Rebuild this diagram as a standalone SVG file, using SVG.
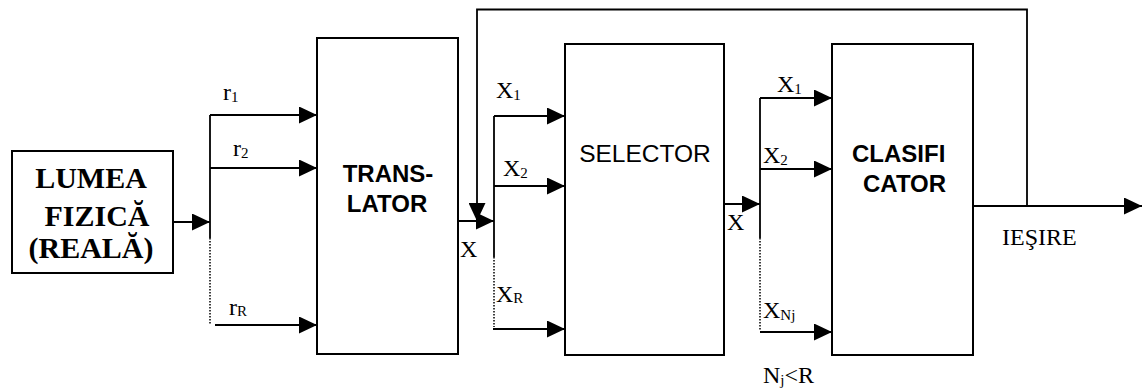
<svg xmlns="http://www.w3.org/2000/svg" width="1142" height="390" viewBox="0 0 1142 390">
<style>
.box{fill:#fff;stroke:#000;stroke-width:2}
.ln{fill:none;stroke:#000;stroke-width:1.8}
.dot{fill:none;stroke:#000;stroke-width:1.5;stroke-dasharray:1.5 1.5}
.sans{font-family:"Liberation Sans",Arial,sans-serif;font-size:24px;fill:#000}
.b{font-weight:bold}
.serif{font-family:"Liberation Serif","Times New Roman",serif;font-size:24px;fill:#000}
.sub{font-size:15px}
</style>
<defs>
<marker id="ah" viewBox="0 0 18 17" refX="18" refY="8.5" markerWidth="18" markerHeight="17" markerUnits="userSpaceOnUse" orient="auto">
<path d="M0,0 L18,8.5 L0,17 z" fill="#000"/>
</marker>
</defs>
<rect width="1142" height="390" fill="#fff"/>
<g id="connectors">
<line class="ln" x1="173" y1="222" x2="210" y2="222" marker-end="url(#ah)"/>
<line class="ln" x1="210" y1="115" x2="210" y2="238"/>
<line class="dot" x1="210" y1="238" x2="210" y2="325"/>
<line class="ln" x1="210" y1="115" x2="317" y2="115" marker-end="url(#ah)"/>
<line class="ln" x1="210" y1="168" x2="317" y2="168" marker-end="url(#ah)"/>
<line class="ln" x1="215" y1="325" x2="317" y2="325" marker-end="url(#ah)"/>
<line class="ln" x1="458" y1="221" x2="494" y2="221" marker-end="url(#ah)"/>
<line class="ln" x1="494" y1="116" x2="494" y2="257"/>
<line class="dot" x1="494" y1="257" x2="494" y2="327"/>
<line class="ln" x1="494" y1="116" x2="565" y2="116" marker-end="url(#ah)"/>
<line class="ln" x1="494" y1="186" x2="565" y2="186" marker-end="url(#ah)"/>
<line class="ln" x1="493" y1="329" x2="565" y2="329" marker-end="url(#ah)"/>
<line class="ln" x1="724" y1="204" x2="760" y2="204" marker-end="url(#ah)"/>
<line class="ln" x1="760" y1="98" x2="760" y2="238"/>
<line class="dot" x1="760" y1="238" x2="760" y2="331"/>
<line class="ln" x1="760" y1="98" x2="832" y2="98" marker-end="url(#ah)"/>
<line class="ln" x1="760" y1="169" x2="832" y2="169" marker-end="url(#ah)"/>
<line class="ln" x1="760" y1="332" x2="832" y2="332" marker-end="url(#ah)"/>
<line class="ln" x1="973" y1="206" x2="1142" y2="206" marker-end="url(#ah)"/>
<polyline class="ln" points="1027,205 1027,9.5 477,9.5 477,221" marker-end="url(#ah)"/>
</g>
<g id="lumea">
<rect class="box" x="12" y="151" width="161" height="122"/>
<text class="serif b" style="font-size:30px" x="91" y="188" text-anchor="middle">LUMEA</text>
<text class="serif b" style="font-size:30px" x="97" y="226" text-anchor="middle">FIZICĂ</text>
<text class="serif b" style="font-size:30px" x="91" y="258" text-anchor="middle">(REALĂ)</text>
</g>
<g id="translator">
<rect class="box" x="317" y="38" width="141" height="316"/>
<text class="sans b" x="388" y="182" text-anchor="middle">TRANS-</text>
<text class="sans b" x="387" y="212" text-anchor="middle">LATOR</text>
</g>
<g id="selector">
<rect class="box" x="565" y="44" width="159" height="311"/>
<text class="sans" style="font-size:24.5px" x="645" y="162" text-anchor="middle">SELECTOR</text>
</g>
<g id="clasificator">
<rect class="box" x="832" y="44" width="141" height="311"/>
<text class="sans b" x="852" y="162">CLASIFI</text>
<text class="sans b" x="863" y="192">CATOR</text>
</g>
<g id="labels">
<text class="serif" x="223" y="100">r<tspan class="sub" dy="2">1</tspan></text>
<text class="serif" x="233" y="156">r<tspan class="sub" dy="2">2</tspan></text>
<text class="serif" x="229" y="315">r<tspan class="sub" dy="1">R</tspan></text>
<text class="serif" x="496" y="98">X<tspan class="sub" dy="2">1</tspan></text>
<text class="serif" x="503" y="176">X<tspan class="sub" dy="2">2</tspan></text>
<text class="serif" x="460" y="257">X</text>
<text class="serif" x="496" y="302">X<tspan class="sub" dy="1">R</tspan></text>
<text class="serif" x="777" y="92">X<tspan class="sub" dy="2">1</tspan></text>
<text class="serif" x="763" y="163">X<tspan class="sub" dy="2">2</tspan></text>
<text class="serif" x="727" y="230">X</text>
<text class="serif" x="763" y="318">X<tspan class="sub" dy="2">Nj</tspan></text>
<text class="serif" x="763" y="383">N<tspan class="sub" dy="2">j</tspan><tspan dy="-2">&lt;R</tspan></text>
<text class="serif" x="1002" y="245">IEŞIRE</text>
</g>
</svg>
